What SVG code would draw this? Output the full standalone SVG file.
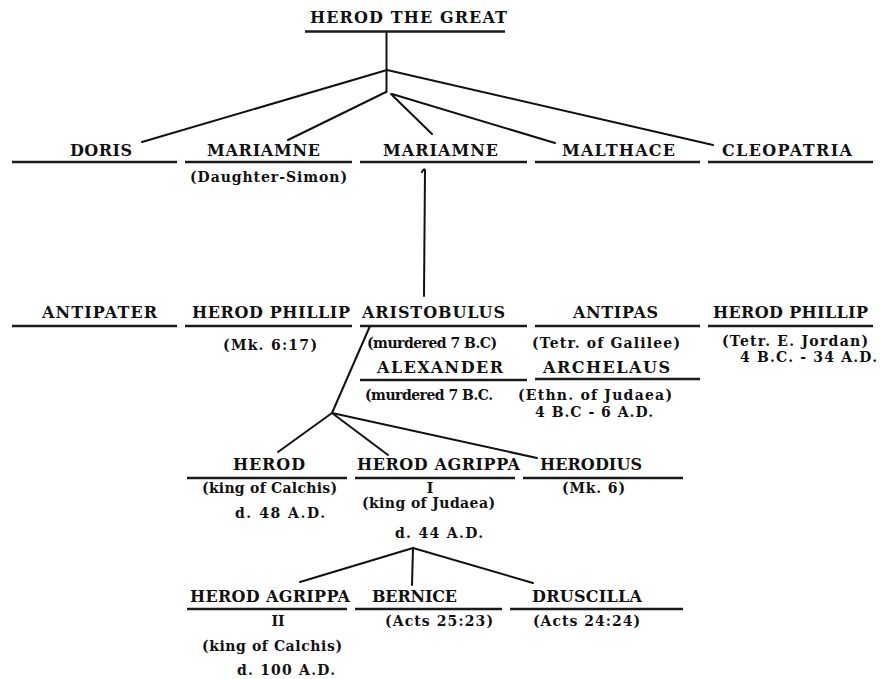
<svg xmlns="http://www.w3.org/2000/svg" width="881" height="679" viewBox="0 0 881 679">
<style>
.t{font-family:"DejaVu Serif","Liberation Serif",serif;font-weight:bold;font-size:16px;fill:#111;text-anchor:middle}
.s{font-family:"DejaVu Serif","Liberation Serif",serif;font-weight:bold;font-size:14px;fill:#111;text-anchor:middle}
.u{stroke:#1a1a1a;stroke-width:2.5;fill:none}
.c{stroke:#111;stroke-width:2;fill:none;stroke-linecap:round}
</style>
<rect width="881" height="679" fill="#fff"/>
<g id="connectors">
<path class="c" d="M386.5,32 V92"/>
<path class="c" d="M387,70 L142,142"/>
<path class="c" d="M387,70 L713,145"/>
<path class="c" d="M386,92 L288,140"/>
<path class="c" d="M391,94 L432,134"/>
<path class="c" d="M392,94 L555,143"/>
<path class="c" d="M422,172 Q424,168 425,170 L424,296"/>
<path class="c" d="M370,326 L332,413"/>
<path class="c" d="M332,413 L278,452"/>
<path class="c" d="M332,413 L388,455"/>
<path class="c" d="M332,413 L537,458"/>
<path class="c" d="M413,548 L300,582"/>
<path class="c" d="M413,548 L412,585"/>
<path class="c" d="M413,548 L533,583"/>
</g>
<g id="herod-the-great"><text class="t" x="408.5" y="23" font-size="17.5" textLength="197" lengthAdjust="spacing">HEROD THE GREAT</text><line class="u" x1="305" y1="31.5" x2="505" y2="31.5"/></g>
<g id="doris"><text class="t" x="101" y="156" textLength="62">DORIS</text><line class="u" x1="12" y1="162" x2="177" y2="162"/></g>
<g id="mariamne-1"><text class="t" x="263.5" y="156" textLength="113">MARIAMNE</text><line class="u" x1="185" y1="162" x2="352" y2="162"/><text class="s" x="268.5" y="182" textLength="157">(Daughter-Simon)</text></g>
<g id="mariamne-2"><text class="t" x="440.5" y="156" textLength="115">MARIAMNE</text><line class="u" x1="360" y1="162" x2="527" y2="162"/></g>
<g id="malthace"><text class="t" x="618.5" y="156" textLength="113">MALTHACE</text><line class="u" x1="535" y1="162" x2="700" y2="162"/></g>
<g id="cleopatria"><text class="t" x="787" y="156" textLength="130">CLEOPATRIA</text><line class="u" x1="708" y1="162" x2="873" y2="162"/></g>
<g id="antipater"><text class="t" x="99.5" y="318" textLength="115">ANTIPATER</text><line class="u" x1="12" y1="326" x2="177" y2="326"/></g>
<g id="herod-phillip-1"><text class="t" x="271" y="318" textLength="158">HEROD PHILLIP</text><line class="u" x1="185" y1="326" x2="352" y2="326"/><text class="s" x="270" y="350" textLength="94">(Mk. 6:17)</text></g>
<g id="aristobulus"><text class="t" x="433.5" y="318" textLength="143">ARISTOBULUS</text><line class="u" x1="360" y1="326" x2="527" y2="326"/><text class="s" x="432" y="348" textLength="130">(murdered 7 B.C)</text></g>
<g id="antipas"><text class="t" x="615.5" y="318" textLength="85">ANTIPAS</text><line class="u" x1="535" y1="326" x2="700" y2="326"/><text class="s" x="606" y="348" textLength="148">(Tetr. of Galilee)</text></g>
<g id="herod-phillip-2"><text class="t" x="790.5" y="318" textLength="155">HEROD PHILLIP</text><line class="u" x1="708" y1="326" x2="873" y2="326"/><text class="s" x="795" y="346" font-size="12.5" textLength="146">(Tetr. E. Jordan)</text><text class="s" x="808.5" y="361.5" font-size="12.5" textLength="137">4 B.C. - 34 A.D.</text></g>
<g id="alexander"><text class="t" x="440" y="373" textLength="126">ALEXANDER</text><line class="u" x1="360" y1="380" x2="527" y2="380"/><text class="s" x="429" y="400" textLength="128">(murdered 7 B.C.</text></g>
<g id="archelaus"><text class="t" x="606.5" y="373" textLength="127">ARCHELAUS</text><line class="u" x1="535" y1="379" x2="700" y2="379"/><text class="s" x="595" y="400" textLength="154">(Ethn. of Judaea)</text><text class="s" x="594" y="417" textLength="118">4 B.C - 6 A.D.</text></g>
<g id="herod-calchis"><text class="t" x="269" y="470" textLength="72">HEROD</text><line class="u" x1="187" y1="478" x2="347" y2="478"/><text class="s" x="269.5" y="493" textLength="135">(king of Calchis)</text><text class="s" x="280" y="518" textLength="90">d. 48 A.D.</text></g>
<g id="herod-agrippa-1"><text class="t" x="438.5" y="470" textLength="163">HEROD AGRIPPA</text><line class="u" x1="355" y1="478" x2="515" y2="478"/><text class="s" x="430" y="493">I</text><text class="s" x="428.5" y="508" textLength="133">(king of Judaea)</text><text class="s" x="439" y="538" textLength="88">d. 44 A.D.</text></g>
<g id="herodius"><text class="t" x="591" y="470" textLength="102">HERODIUS</text><line class="u" x1="523" y1="478" x2="683" y2="478"/><text class="s" x="593.5" y="493" textLength="63">(Mk. 6)</text></g>
<g id="herod-agrippa-2"><text class="t" x="270" y="602" textLength="160">HEROD AGRIPPA</text><line class="u" x1="187" y1="609" x2="347" y2="609"/><text class="s" x="278" y="626">II</text><text class="s" x="272" y="651" textLength="140">(king of Calchis)</text><text class="s" x="286" y="675" textLength="98">d. 100 A.D.</text></g>
<g id="bernice"><text class="t" x="414.5" y="602" textLength="85">BERNICE</text><line class="u" x1="355" y1="609" x2="502" y2="609"/><text class="s" x="439" y="626" textLength="108">(Acts 25:23)</text></g>
<g id="druscilla"><text class="t" x="587" y="602" textLength="110">DRUSCILLA</text><line class="u" x1="510" y1="609" x2="683" y2="609"/><text class="s" x="586.5" y="626" textLength="107">(Acts 24:24)</text></g>
</svg>
